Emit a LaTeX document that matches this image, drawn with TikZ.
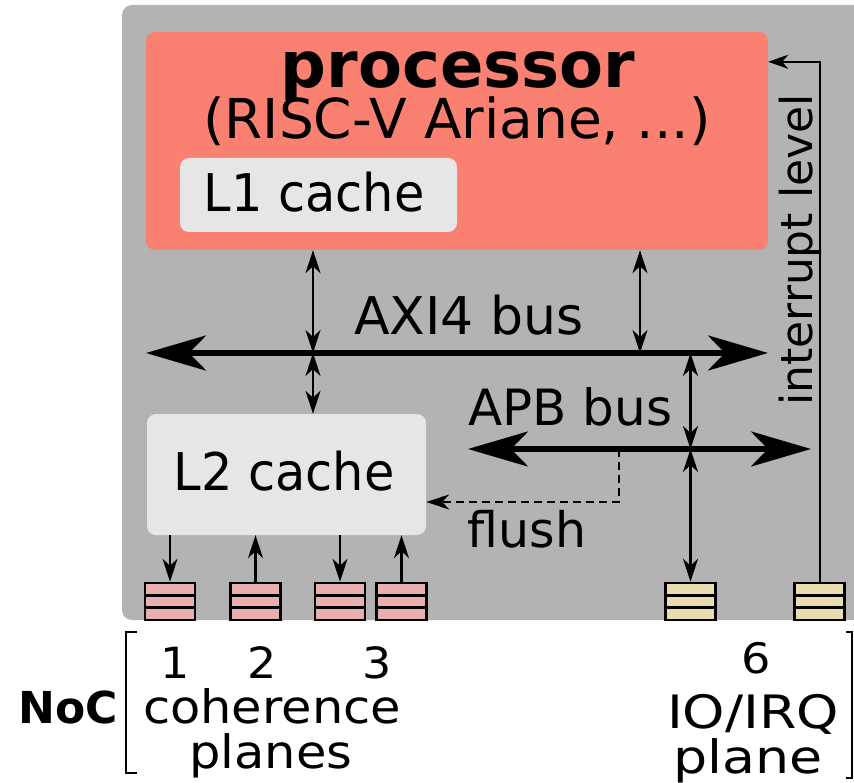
\documentclass[tikz,border=0pt]{standalone}
\usepackage{fontspec}
\setmainfont{DejaVu Sans}
\usetikzlibrary{arrows.meta,calc}
\definecolor{bggray}{HTML}{B3B3B3}
\definecolor{procred}{HTML}{FA8072}
\definecolor{cachegray}{HTML}{E6E6E6}
\definecolor{qpink}{HTML}{E9AFAF}
\definecolor{qyellow}{HTML}{E9DDAF}
\newcommand{\fsz}[1]{\fontsize{#1}{#1}\selectfont}
\tikzset{
  txt/.style={inner sep=0pt, anchor=base, font=\fsz{48}},
  procbox/.style={fill=procred, rounded corners=9pt, inner sep=0pt},
  cachebox/.style={fill=cachegray, rounded corners=9pt, inner sep=0pt},
  queue/.style={draw, line width=2.5pt, fill=#1, minimum width=50pt, minimum height=37pt, inner sep=0pt,
    path picture={
      \draw[line width=2.5pt] ($(path picture bounding box.north west)!0.333!(path picture bounding box.south west)$) -- ($(path picture bounding box.north east)!0.333!(path picture bounding box.south east)$);
      \draw[line width=2.5pt] ($(path picture bounding box.north west)!0.667!(path picture bounding box.south west)$) -- ($(path picture bounding box.north east)!0.667!(path picture bounding box.south east)$);
    }},
  thinarrow/.style={line width=2.2pt, -{Stealth[length=23pt,width=15pt,inset=7pt]}},
  dblarrow/.style={line width=2.2pt, {Stealth[length=23pt,width=15pt,inset=7pt]}-{Stealth[length=23pt,width=15pt,inset=7pt]}},
  busline/.style={line width=5.5pt, {Stealth[length=60pt,width=35pt,inset=17pt]}-{Stealth[length=60pt,width=35pt,inset=17pt]}},
  flushline/.style={line width=2.2pt, dash pattern=on 8pt off 5pt, -{Stealth[length=23pt,width=15pt,inset=7pt]}},
  irqline/.style={line width=2pt, -{Stealth[length=20pt,width=14pt,inset=6pt]}},
  bracket/.style={line width=2.5pt}
}
\begin{document}
\begin{tikzpicture}[x=1pt,y=-1pt]
\useasboundingbox (0,0) rectangle (854,783);
\clip (0,0) rectangle (854,783);
% background panel
\fill[bggray, rounded corners=10pt] (122,5) rectangle (900,620);
% processor
\node[procbox, minimum width=622pt, minimum height=218pt] (proc) at (457,141) {};
\node[txt, font=\fsz{64}\bfseries] (proctitle) at (458,88) {processor};
\node[txt, font=\fsz{55}] (procsub) at (457,139) {(RISC-V Ariane, ...)};
\node[cachebox, minimum width=277pt, minimum height=74pt] (L1) at (318.5,195) {};
\node[txt, font=\fsz{52}, xscale=0.95] (L1txt) at (314,212) {L1 cache};
% L2 cache
\node[cachebox, minimum width=279pt, minimum height=121pt] (L2) at (286.5,474.5) {};
\node[txt, font=\fsz{52}, xscale=0.95] (L2txt) at (284,490) {L2 cache};
% queues
\node[queue=qpink] (q1) at (170,601.5) {};
\node[queue=qpink] (q2) at (255.5,601.5) {};
\node[queue=qpink] (q3) at (340,601.5) {};
\node[queue=qpink] (q4) at (401.5,601.5) {};
\node[queue=qyellow] (q5) at (690.5,601.5) {};
\node[queue=qyellow] (q6) at (819.5,601.5) {};
% bus coordinates
\coordinate (axiL) at (146,353);
\coordinate (axiR) at (768,353);
\coordinate (apbL) at (468,449);
\coordinate (apbR) at (811,449);
\coordinate (a1) at (313,353);
\coordinate (a2) at (640,353);
\coordinate (a3) at (690.5,353);
\coordinate (b3) at (690.5,449);
\coordinate (f1) at (619,449);
% buses
\draw[busline] (axiL) -- (axiR);
\draw[busline] (apbL) -- (apbR);
\node[txt, font=\fsz{52}] (axitxt) at (469,335) {AXI4 bus};
\node[txt, font=\fsz{50}] (apbtxt) at (570.5,425) {APB bus};
% vertical connections
\draw[dblarrow] (proc.south -| a1) -- (a1);
\draw[dblarrow] (a1) -- (L2.north -| a1);
\draw[dblarrow] (proc.south -| a2) -- (a2);
\draw[dblarrow] (a3) -- (b3);
\draw[dblarrow] (b3) -- (q5.north);
% flush
\draw[flushline] (f1) |- ([yshift=-27.5pt]L2.east);
\node[txt, font=\fsz{49}] (flushtxt) at (527,547) {flush};
% L2 to queues
\draw[thinarrow] (L2.south -| q1) -- (q1.north);
\draw[thinarrow] (q2.north) -- (L2.south -| q2);
\draw[thinarrow] (L2.south -| q3) -- (q3.north);
\draw[thinarrow] (q4.north) -- (L2.south -| q4);
% interrupt
\draw[irqline] (q6.north) |- ([yshift=-30pt]proc.north east);
\node[txt, font=\fsz{44}, rotate=90] (irqtxt) at (812,250) {interrupt level};
% NoC labels
\node[txt, font=\fsz{44}\bfseries] (noc) at (68,723) {NoC};
\draw[bracket] (137,632) -- (126,632) -- (126,773) -- (137,773);
\draw[bracket] (846,632) -- (852,632) -- (852,778) -- (846,778);
\node[txt, font=\fsz{43}, xscale=1.07] (n1) at (175,678) {1};
\node[txt, font=\fsz{43}, xscale=1.07] (n2) at (262,678) {2};
\node[txt, font=\fsz{43}, xscale=1.07] (n3) at (377,678) {3};
\node[txt, font=\fsz{46}, xscale=1.075] (coh) at (272,723) {coherence};
\node[txt, font=\fsz{46}, xscale=1.075] (planes) at (271,768) {planes};
\node[txt, font=\fsz{42}, xscale=1.1] (n6) at (756,673) {6};
\node[txt, font=\fsz{46}, xscale=1.17] (io) at (753,728) {IO/IRQ};
\node[txt, font=\fsz{46}, xscale=1.17] (plane) at (748,773) {plane};
\end{tikzpicture}
\end{document}
